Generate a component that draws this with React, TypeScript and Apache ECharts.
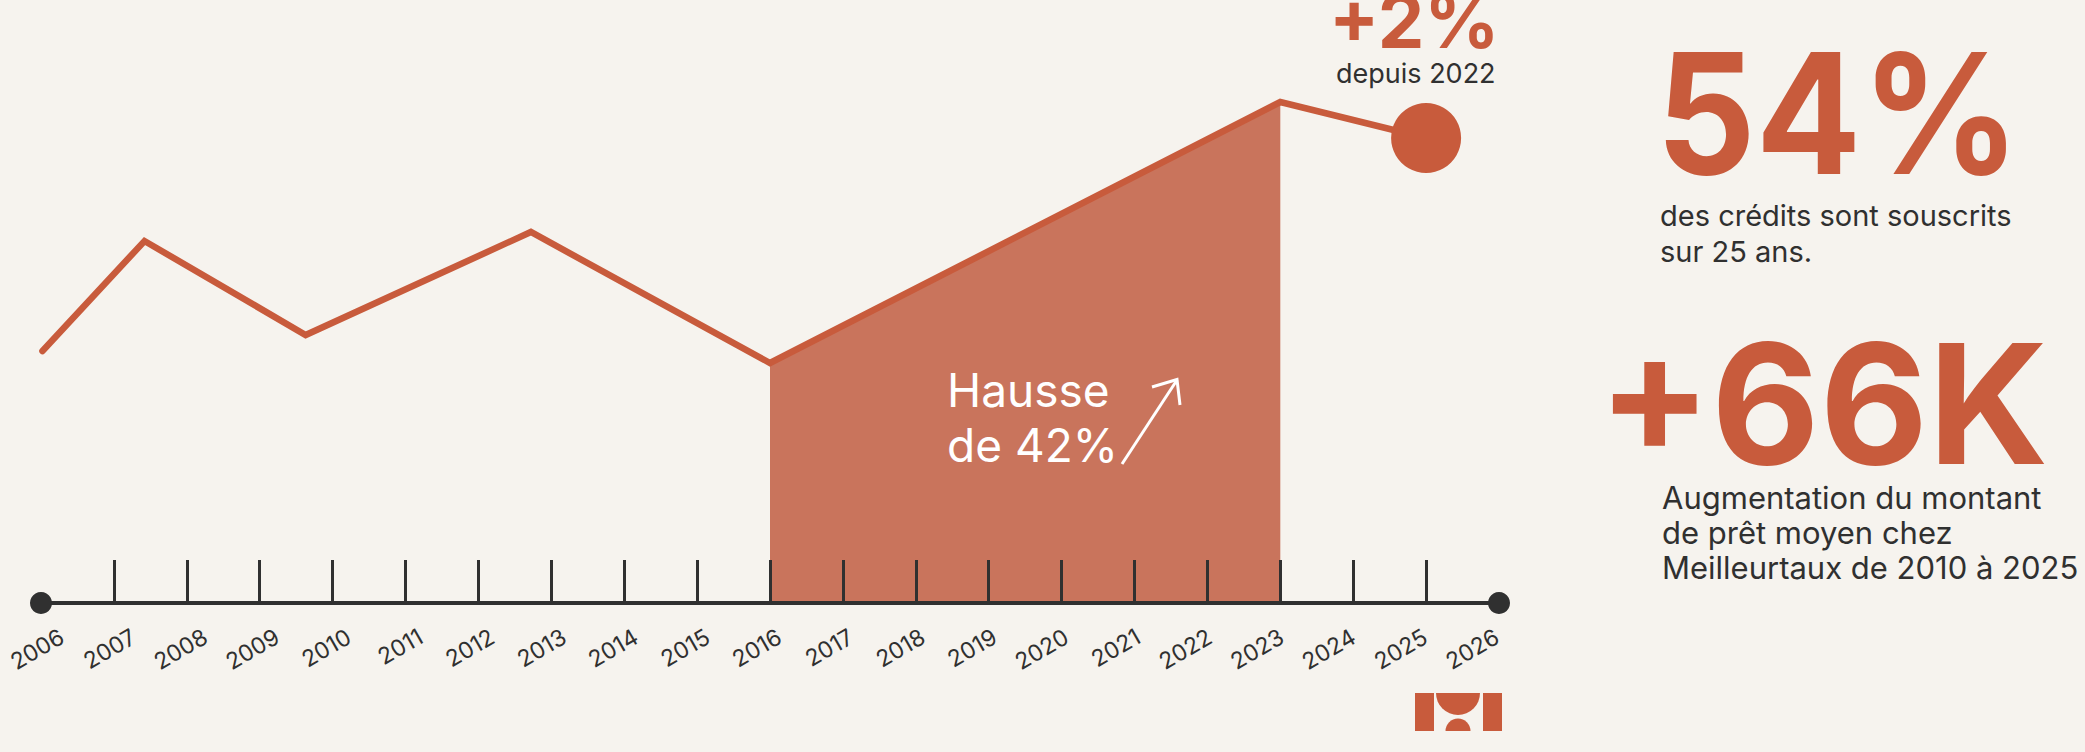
import React, { useEffect, useRef } from "react";
import * as echarts from "echarts";

// ---- data ----
const axisYears = [2006, 2026];
const tickYears = [2007, 2008, 2009, 2010, 2011, 2012, 2013, 2014, 2015, 2016, 2017, 2018, 2019, 2020, 2021, 2022, 2023, 2024, 2025];
const labelYears = [2006, 2007, 2008, 2009, 2010, 2011, 2012, 2013, 2014, 2015, 2016, 2017, 2018, 2019, 2020, 2021, 2022, 2023, 2024, 2025, 2026];
// trend line (illustrative index values)
const trendYears = [2006.02, 2007.42, 2009.63, 2012.72, 2016, 2023, 2025];
const trendValues = [252, 362, 268, 371, 240, 501, 465];
const highlightStart = 2016;
const highlightEnd = 2023;
const lastYear = 2025;

const ORANGE = "#C85B3C";
const FILL = "#C9745C";
const DARK = "#303030";
const BG = "#F6F3EE";
const FONT = "Inter, 'Noto Sans', sans-serif";

export default function App() {
  const ref = useRef<HTMLDivElement>(null);
  useEffect(() => {
    if (!ref.current) return;
    const chart = echarts.init(ref.current, null, { renderer: "svg" });
    const linePts = trendYears.map((y, i) => [y, trendValues[i]]);
    const areaPts = linePts.filter((p) => p[0] >= highlightStart && p[0] <= highlightEnd);
    const lastIdx = trendYears.indexOf(lastYear);
    const text = (t: string, x: number, y: number, size: number, color: string, weight: string | number = "normal", scaleX = 1) => ({
      type: "text",
      x,
      y,
      scaleX,
      z: 100,
      style: {
        text: t,
        fill: color,
        font: `${weight} ${size}px ${FONT}`,
        textAlign: "left",
        textVerticalAlign: "middle",
      },
    });
    chart.setOption({
      animation: false,
      backgroundColor: BG,
      grid: [
        { left: 41, width: 1458, top: 3, height: 600, outerBoundsMode: "none", containLabel: false },
        { left: 62, width: 1435, top: 3, height: 600, outerBoundsMode: "none", containLabel: false },
      ],
      xAxis: [
        {
          type: "value",
          gridIndex: 0,
          min: 2006,
          max: 2026,
          interval: 1,
          z: 10,
          splitLine: { show: false },
          axisLine: { show: true, lineStyle: { color: DARK, width: 4 } },
          axisTick: { show: true, inside: true, length: 43, customValues: tickYears, lineStyle: { color: DARK, width: 3 } },
          axisLabel: { show: false },
        },
        {
          type: "value",
          gridIndex: 1,
          min: 2006,
          max: 2026,
          interval: 1,
          splitLine: { show: false },
          axisLine: { show: false },
          axisTick: { show: false },
          axisLabel: {
            rotate: 30,
            margin: 32,
            fontSize: 23,
            color: DARK,
            fontFamily: FONT,
            customValues: labelYears,
            formatter: (v: number) => String(v),
          },
        },
      ],
      yAxis: [
        { type: "value", gridIndex: 0, min: 0, max: 600, show: false },
        { type: "value", gridIndex: 1, min: 0, max: 600, show: false },
      ],
      series: [
        {
          type: "line",
          data: areaPts,
          showSymbol: false,
          lineStyle: { width: 0 },
          areaStyle: { color: FILL, opacity: 1 },
          z: 2,
          clip: false,
        },
        {
          type: "line",
          data: linePts,
          showSymbol: false,
          lineStyle: { color: ORANGE, width: 6.5, cap: "round", join: "miter" },
          z: 3,
          clip: false,
        },
        {
          type: "scatter",
          data: [linePts[lastIdx]],
          symbolSize: 70,
          itemStyle: { color: ORANGE, opacity: 1 },
          z: 4,
          clip: false,
        },
        {
          type: "scatter",
          data: axisYears.map((y) => [y, 0]),
          symbolSize: 22,
          itemStyle: { color: DARK, opacity: 1 },
          z: 20,
          clip: false,
        },
      ],
      graphic: [
        text("+2%", 1329, 21, 74, ORANGE, "bold"),
        text("depuis 2022", 1336, 73.5, 27, DARK),
        text("Hausse", 947, 390, 46, "#FFFFFF"),
        text("de 42%", 947, 445, 46, "#FFFFFF"),
        { type: "line", z: 100, shape: { x1: 1122, y1: 464, x2: 1177, y2: 380 }, style: { stroke: "#FFFFFF", lineWidth: 3 } },
        { type: "polyline", z: 100, shape: { points: [[1152, 387], [1177, 379.5], [1180, 405]] }, style: { stroke: "#FFFFFF", lineWidth: 3, fill: null } },
        text("54%", 1656, 113, 167, ORANGE, "bold", 0.935),
        text("des crédits sont souscrits", 1660, 215.5, 29, DARK),
        text("sur 25 ans.", 1660, 251.5, 29, DARK),
        text("+66K", 1598, 403, 167, ORANGE, "bold", 1),
        text("Augmentation du montant", 1662, 497.5, 31, DARK),
        text("de prêt moyen chez", 1662, 532.5, 31, DARK),
        text("Meilleurtaux de 2010 à 2025", 1662, 567.5, 31, DARK),
        // logo
        { type: "rect", z: 100, shape: { x: 1415, y: 693, width: 19, height: 38 }, style: { fill: ORANGE } },
        { type: "rect", z: 100, shape: { x: 1483, y: 693, width: 19, height: 38 }, style: { fill: ORANGE } },
        { type: "sector", z: 100, shape: { cx: 1458, cy: 693, r: 22, r0: 0, startAngle: 0, endAngle: Math.PI, clockwise: true }, style: { fill: ORANGE } },
        { type: "sector", z: 100, shape: { cx: 1458, cy: 731, r: 12.5, r0: 0, startAngle: Math.PI, endAngle: Math.PI * 2, clockwise: true }, style: { fill: ORANGE } },
      ],
    });
    return () => chart.dispose();
  }, []);
  return <div ref={ref} style={{ position: "fixed", left: 0, top: 0, width: 2085, height: 752 }} />;
}
